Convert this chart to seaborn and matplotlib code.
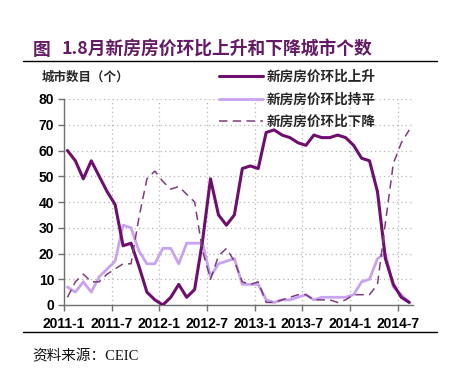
import matplotlib
matplotlib.use("Agg")
import numpy as np
import pandas as pd
import matplotlib.pyplot as plt
from matplotlib.lines import Line2D
from matplotlib.font_manager import FontProperties
import seaborn as sns

# ---- data ----
months = [str(p) for p in pd.period_range("2011-01", "2014-08", freq="M")]
rise = [60, 56, 49, 56, 50, 44, 39, 23, 24, 15, 5, 2, 0, 3, 8, 3, 6, 25, 49, 35, 31, 35,
        53, 54, 53, 67, 68, 66, 65, 63, 62, 66, 65, 65, 66, 65, 62, 57, 56, 44, 18, 8, 3, 1]
flat = [7, 5, 9, 5, 11, 14, 17, 31, 30, 21, 16, 16, 22, 22, 16, 24, 24, 24, 11, 16, 17, 18,
        8, 8, 8, 2, 1, 2, 2, 3, 4, 2, 3, 3, 3, 3, 4, 9, 10, 18, 20, 7, 4, 1]
fall = [3, 9, 12, 9, 9, 12, 14, 16, 16, 34, 49, 52, 48, 45, 46, 43, 40, 21, 10, 19, 22, 17,
        9, 8, 9, 1, 1, 2, 3, 4, 4, 2, 2, 2, 1, 2, 4, 4, 4, 8, 32, 55, 63, 68]
series_names = ["新房房价环比上升", "新房房价环比持平", "新房房价环比下降"]
tick_labels = ["2011-1", "2011-7", "2012-1", "2012-7", "2013-1", "2013-7", "2014-1", "2014-7"]
yticks = [0, 10, 20, 30, 40, 50, 60, 70, 80]
title_head = "图"
title_body = "1.8月新房房价环比上升和下降城市个数"
ylabel = "城市数目（个）"
source = "资料来源：CEIC"

sns.set_theme(style="ticks")
plt.rcParams["font.family"] = ["Liberation Sans", "Noto Sans CJK SC", "DejaVu Sans"]

c_rise = "#6E0E6E"
c_flat = "#C9A2F0"
c_fall = "#7E3C7E"

W, H = 455, 378
fig = plt.figure(figsize=(W / 100, H / 100), dpi=100)
ax = fig.add_axes([64 / W, 1 - 305 / H, (413 - 64) / W, (305 - 99) / H])

df = pd.DataFrame({"month": months, "rise": rise, "flat": flat, "fall": fall})
df["x"] = np.arange(len(df)) + 0.43

sns.lineplot(data=df, x="x", y="rise", ax=ax, color=c_rise, linewidth=2.2, label=series_names[0])
sns.lineplot(data=df, x="x", y="flat", ax=ax, color=c_flat, linewidth=2.0, label=series_names[1])
sns.lineplot(data=df, x="x", y="fall", ax=ax, color=c_fall, linewidth=1.1, label=series_names[2])
ax.lines[2].set_dashes((5.5, 3.5))
ax.lines[0].set_zorder(4)
ax.lines[1].set_zorder(3)
ax.lines[2].set_zorder(5)

ax.set_xlim(0, 43.9)
ax.set_ylim(0, 80)
tick_pos = [months.index(t.split("-")[0] + "-" + t.split("-")[1].zfill(2)) for t in tick_labels]
ax.set_xticks(tick_pos)
ax.set_xticklabels(tick_labels)
ax.set_yticks(yticks)
ax.set_xlabel("")
ax.set_ylabel("")

for s in ["top", "right"]:
    ax.spines[s].set_visible(False)
for s in ["left", "bottom"]:
    ax.spines[s].set_color("#707070")
    ax.spines[s].set_linewidth(1.0)

ax.tick_params(axis="both", direction="out", length=4, width=1, color="#707070")
ax.tick_params(axis="y", pad=3)
ax.tick_params(axis="x", pad=5)
tfont = FontProperties(family="Liberation Sans", weight="bold", size=10)
for lab in ax.get_xticklabels() + ax.get_yticklabels():
    lab.set_fontproperties(tfont)
    lab.set_color("black")

ax.grid(True, axis="both", linestyle=(0, (1, 2.5)), color="#b5b5b5", linewidth=0.9)
ax.set_axisbelow(True)

handles, labels = ax.get_legend_handles_labels()
ax.get_legend().remove()
cjk_bold = FontProperties(family=["Noto Sans CJK SC"], weight="bold", size=9.8)
fig.legend(handles, labels, loc="upper left", bbox_to_anchor=(219 / W, 1 - 70 / H),
           frameon=False, prop=cjk_bold, handlelength=3.2, handletextpad=0.3,
           labelspacing=0.62, borderpad=0, borderaxespad=0)

fig.text(42 / W, 1 - 77 / H, ylabel, ha="left", va="center",
         fontproperties=FontProperties(family=["Noto Sans CJK SC"], weight="bold", size=9))
tfp = FontProperties(family=["Noto Sans CJK SC"], weight="bold", size=12.8)
fig.text(33 / W, 1 - 50 / H, title_head, ha="left", va="center", color="#641A64", fontproperties=tfp)
fig.text(62 / W, 1 - 50 / H, title_body, ha="left", va="center", color="#641A64", fontproperties=tfp)
fig.text(32 / W, 1 - 356 / H, source, ha="left", va="center", color="#111111",
         fontproperties=FontProperties(family=["Liberation Serif", "Noto Sans CJK SC"], size=10.5))

fig.add_artist(Line2D([23 / W, 437 / W], [1 - 61 / H, 1 - 61 / H], color="black", linewidth=1.0))
fig.add_artist(Line2D([23 / W, 437 / W], [1 - 332 / H, 1 - 332 / H], color="black", linewidth=1.0))

fig.savefig("out.png", dpi=100)
